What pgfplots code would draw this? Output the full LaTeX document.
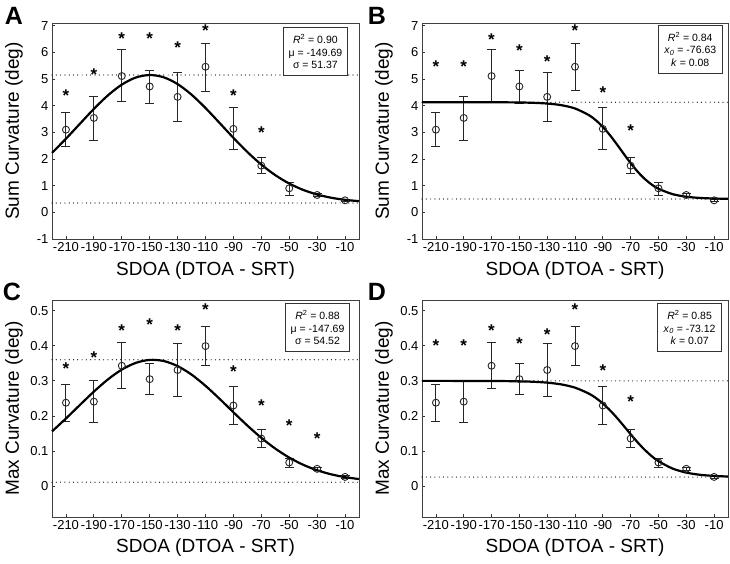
\documentclass[border=0pt]{standalone}
\usepackage{fontspec}
\setmainfont{Liberation Sans}
\usepackage{pgfplots}
\usepackage{pgfplotstable}
\pgfplotsset{compat=1.18}

\pgfplotstableread{
x ep em y
-210 0.65 0.65 3.10
-190 0.81 0.84 3.54
-170 1.01 0.97 5.11
-150 0.61 0.65 4.72
-130 0.92 0.93 4.33
-110 0.87 0.91 5.46
-90 0.79 0.78 3.13
-70 0.31 0.30 1.75
-50 0.23 0.25 0.90
-30 0.06 0.06 0.65
-10 0.05 0.05 0.45
}\sumdata

\pgfplotstableread{
x ep em y
-210 0.053 0.053 0.238
-190 0.059 0.058 0.241
-170 0.065 0.066 0.343
-150 0.045 0.045 0.305
-130 0.076 0.075 0.331
-110 0.056 0.055 0.399
-90 0.054 0.054 0.230
-70 0.025 0.025 0.136
-50 0.010 0.015 0.068
-30 0.005 0.005 0.050
-10 0.004 0.004 0.027
}\maxdata

\tikzset{
  legbox/.style={draw=black!80, line width=1.1pt, fill=white, text=black, align=center,
    font=\fontsize{10.5}{12.5}\selectfont, anchor=north east, inner sep=3pt,
    minimum width=64pt, minimum height=48pt},
}

\pgfplotsset{
  myax/.style={scale only axis, width=307pt, height=216pt, anchor=south west,
    xmin=-220, xmax=0, xtick={-210,-190,...,-10},
    xticklabels={-210,-190,-170,-150,-130,-110,-90,-70,-50,-30,-10},
    tick align=inside, xtick pos=bottom, ytick pos=left, major tick length=3pt,
    tick style={black!80, line width=0.8pt},
    axis line style={black!75, line width=1pt},
    tick label style={font=\fontsize{13}{13}\selectfont},
    xlabel={SDOA (DTOA - SRT)},
    every axis x label/.style={at={(axis description cs:0.5,-0.148)}, anchor=center,
      font=\fontsize{19}{19}\selectfont},
    every axis y label/.style={at={(axis description cs:-0.124,0.5)}, rotate=90, anchor=center,
      font=\fontsize{19}{19}\selectfont},
    clip=false,
  },
  dotline/.style={black, line width=1.2pt, line cap=round, dash pattern=on 0pt off 4.3pt},
  fitline/.style={black, line width=2.2pt, smooth, no marks},
  stars/.style={only marks, mark=text, text mark={*}, text mark as node=true,
    text mark style={font=\fontsize{17}{17}\selectfont\bfseries, yshift=-3.7pt, inner sep=0pt}},
  datapts/.style={only marks, mark=o, mark size=3.5pt, black!85,
    mark options={line width=0.9pt, fill=none},
    error bars/.cd, y dir=both, y explicit,
    error bar style={line width=1pt, black!85},
    error mark options={rotate=90, mark size=4.5pt, line width=1pt, black!85}},
}

\begin{document}
\begin{tikzpicture}[x=1pt,y=1pt]
\useasboundingbox (0,0) rectangle (730,563);

% ---------------- A ----------------
\begin{axis}[myax, at={(52pt,324pt)}, ymin=-1, ymax=7.1, ytick={-1,0,...,7},
  yticklabels={-1,0,1,2,3,4,5,6,7}, ylabel={Sum Curvature (deg)}]
\addplot[dotline] coordinates {(-220,5.15) (0,5.15)};
\addplot[dotline] coordinates {(-220,0.35) (0,0.35)};
\addplot[datapts] table[x=x, y=y, y error plus=ep, y error minus=em] {\sumdata};
\addplot[fitline] coordinates {(-220,2.231) (-210,2.760) (-200,3.321) (-190,3.878) (-180,4.383) (-170,4.789) (-160,5.054) (-150,5.150) (-140,5.065) (-130,4.810) (-120,4.412) (-110,3.912) (-100,3.357) (-90,2.794) (-80,2.262) (-70,1.791) (-60,1.395) (-50,1.080) (-40,0.841) (-30,0.668) (-20,0.548) (-10,0.469) (0,0.419)};
\addplot[stars] coordinates {(-210,4.5) (-190,5.3) (-170,6.65) (-150,6.67) (-130,6.3) (-110,6.97) (-90,4.5) (-70,3.14)};
\node[legbox] at (rel axis cs:0.964,0.981) {\textit{R}\textsuperscript{2} = 0.90\\ μ = -149.69\\ σ = 51.37};
\end{axis}

% ---------------- B ----------------
\begin{axis}[myax, at={(422pt,324pt)}, width=306pt, ymin=-1, ymax=7.1, ytick={-1,0,...,7},
  yticklabels={-1,0,1,2,3,4,5,6,7}, ylabel={Sum Curvature (deg)}]
\addplot[dotline] coordinates {(-220,4.13) (0,4.13)};
\addplot[dotline] coordinates {(-220,0.50) (0,0.50)};
\addplot[datapts] table[x=x, y=y, y error plus=ep, y error minus=em] {\sumdata};
\addplot[fitline] coordinates {(-220,4.130) (-200,4.130) (-180,4.129) (-160,4.125) (-150,4.120) (-140,4.107) (-130,4.080) (-120,4.020) (-110,3.895) (-100,3.645) (-95,3.452) (-90,3.203) (-85,2.901) (-80,2.558) (-75,2.197) (-70,1.845) (-65,1.527) (-60,1.259) (-55,1.046) (-50,0.885) (-40,0.684) (-30,0.585) (-20,0.539) (-10,0.518) (0,0.508)};
\addplot[stars] coordinates {(-210,5.6) (-190,5.6) (-170,6.62) (-150,6.19) (-130,5.78) (-110,6.97) (-90,4.62) (-70,3.19)};
\node[legbox] at (rel axis cs:0.983,0.991) {\textit{R}\textsuperscript{2} = 0.84\\ \textit{x}\textsubscript{\textit{0}} = -76.63\\ \textit{k} = 0.08};
\end{axis}

% ---------------- C ----------------
\begin{axis}[myax, at={(52pt,46pt)}, height=217pt, ymin=-0.087, ymax=0.53, ytick={0,0.1,0.2,0.3,0.4,0.5},
  yticklabels={0,0.1,0.2,0.3,0.4,0.5}, ylabel={Max Curvature (deg)},
  every axis x label/.style={at={(axis description cs:0.5,-0.143)}, anchor=center,
    font=\fontsize{19}{19}\selectfont}]
\addplot[dotline] coordinates {(-220,0.36) (0,0.36)};
\addplot[dotline] coordinates {(-220,0.012) (0,0.012)};
\addplot[datapts] table[x=x, y=y, y error plus=ep, y error minus=em] {\maxdata};
\addplot[fitline] coordinates {(-220,0.1564) (-210,0.1931) (-200,0.2316) (-190,0.2695) (-180,0.3040) (-170,0.3321) (-160,0.3512) (-150,0.3597) (-140,0.3566) (-130,0.3421) (-120,0.3179) (-110,0.2860) (-100,0.2494) (-90,0.2108) (-80,0.1730) (-70,0.1381) (-60,0.1075) (-50,0.0819) (-40,0.0615) (-30,0.0459) (-20,0.0344) (-10,0.0263) (0,0.0209)};
\addplot[stars] coordinates {(-210,0.346) (-190,0.377) (-170,0.4545) (-150,0.4716) (-130,0.4545) (-110,0.514) (-90,0.336) (-70,0.2415) (-50,0.183) (-30,0.147)};
\node[legbox] at (rel axis cs:0.971,0.986) {\textit{R}\textsuperscript{2} = 0.88\\ μ = -147.69\\ σ = 54.52};
\end{axis}

% ---------------- D ----------------
\begin{axis}[myax, at={(422pt,46pt)}, width=306pt, height=217pt, ymin=-0.087, ymax=0.53, ytick={0,0.1,0.2,0.3,0.4,0.5},
  yticklabels={0,0.1,0.2,0.3,0.4,0.5}, ylabel={Max Curvature (deg)},
  every axis x label/.style={at={(axis description cs:0.5,-0.143)}, anchor=center,
    font=\fontsize{19}{19}\selectfont}]
\addplot[dotline] coordinates {(-220,0.300) (0,0.300)};
\addplot[dotline] coordinates {(-220,0.0265) (0,0.0265)};
\addplot[datapts] table[x=x, y=y, y error plus=ep, y error minus=em] {\maxdata};
\addplot[fitline] coordinates {(-220,0.3000) (-200,0.3000) (-180,0.2998) (-160,0.2994) (-150,0.2987) (-140,0.2975) (-130,0.2950) (-120,0.2901) (-110,0.2808) (-100,0.2638) (-95,0.2514) (-90,0.2359) (-85,0.2170) (-80,0.1956) (-75,0.1722) (-70,0.1484) (-65,0.1254) (-60,0.1045) (-55,0.0865) (-50,0.0717) (-40,0.0510) (-30,0.0392) (-20,0.0330) (-10,0.0298) (0,0.0281)};
\addplot[stars] coordinates {(-210,0.412) (-190,0.412) (-170,0.4545) (-150,0.415) (-130,0.442) (-110,0.514) (-90,0.341) (-70,0.251)};
\node[legbox] at (rel axis cs:0.981,0.986) {\textit{R}\textsuperscript{2} = 0.85\\ \textit{x}\textsubscript{\textit{0}} = -73.12\\ \textit{k} = 0.07};
\end{axis}

% panel letters
\node[anchor=base, font=\fontsize{25}{25}\selectfont\bfseries] at (14,538) {A};
\node[anchor=base, font=\fontsize{25}{25}\selectfont\bfseries] at (377,538) {B};
\node[anchor=base, font=\fontsize{25}{25}\selectfont\bfseries] at (12,263) {C};
\node[anchor=base, font=\fontsize{25}{25}\selectfont\bfseries] at (377,263) {D};
\end{tikzpicture}
\end{document}
